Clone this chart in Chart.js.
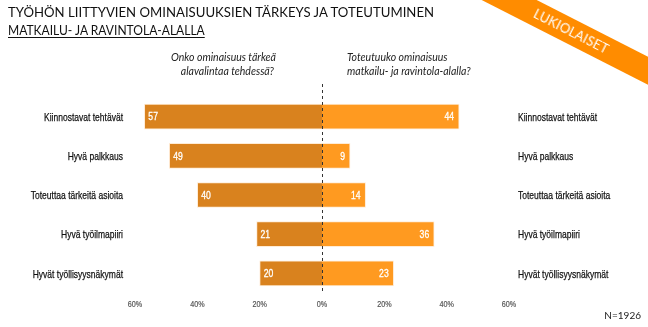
<!DOCTYPE html>
<html>
<head>
<meta charset="utf-8">
<script src="https://cdn.jsdelivr.net/npm/chart.js@4"></script>
<style>
  html,body{margin:0;padding:0;background:#fff;}
  body{width:648px;height:327px;position:relative;overflow:hidden;font-family:Lato,"Open Sans",sans-serif;}
  #c{position:absolute;left:0;top:0;}
  .t{position:absolute;white-space:nowrap;color:#111;}
  #title1{left:8px;top:3px;font-size:14px;transform:scaleX(0.94);transform-origin:0 0;}
  #title2{left:8px;top:21px;font-size:14px;transform:scaleX(0.86);transform-origin:0 0;text-decoration:underline;text-underline-offset:2px;}
  .q{font-style:italic;font-size:10.5px;color:#222;line-height:14px;}
  #qL{right:372px;top:50px;text-align:right;}
  #qR{left:347px;top:50px;text-align:left;}
  #n{right:7px;top:309px;font-size:10px;color:#222;}
  #ribbon{position:absolute;left:421px;top:19px;width:300px;height:25px;background:#FF8C00;transform:rotate(27deg);transform-origin:50% 50%;color:#fff;font-size:13px;line-height:25px;text-align:center;letter-spacing:0.2px;}
</style>
</head>
<body>
<canvas id="c" width="648" height="327"></canvas>
<div class="t" id="title1">TYÖHÖN LIITTYVIEN OMINAISUUKSIEN TÄRKEYS JA TOTEUTUMINEN</div>
<div class="t" id="title2">MATKAILU- JA RAVINTOLA-ALALLA</div>
<div class="t q" id="qL">Onko ominaisuus tärkeä<br><span style="padding-right:2px">alavalintaa tehdessä?</span></div>
<div class="t q" id="qR">Toteutuuko ominaisuus<br>matkailu- ja ravintola-alalla?</div>
<div class="t" id="n">N=1926</div>
<div id="ribbon">LUKIOLAISET</div>
<script>
const categories = ["Kiinnostavat tehtävät","Hyvä palkkaus","Toteuttaa tärkeitä asioita","Hyvä työilmapiiri","Hyvät työllisyysnäkymät"];
const importance = [57, 49, 40, 21, 20];   // Onko ominaisuus tärkeä alavalintaa tehdessä?
const realization = [44, 9, 14, 36, 23];   // Toteutuuko ominaisuus matkailu- ja ravintola-alalla?
const tickValues = [-60, -40, -20, 0, 20, 40, 60];

const baseFont = '"Liberation Sans",Arial,sans-serif';

function condensedText(ctx, text, x, y, align, sx, strokeW) {
  ctx.save();
  ctx.translate(x, y);
  ctx.scale(sx, 1);
  ctx.textAlign = align;
  ctx.fillText(text, 0, 0);
  if (strokeW) {
    ctx.strokeStyle = ctx.fillStyle;
    ctx.lineWidth = strokeW;
    ctx.strokeText(text, 0, 0);
  }
  ctx.restore();
}

const zeroLine = {
  id: 'zeroLine',
  afterDatasetsDraw(chart) {
    const ctx = chart.ctx;
    const x = Math.round(chart.scales.x.getPixelForValue(0)) + 0.5;
    ctx.save();
    ctx.strokeStyle = '#333';
    ctx.lineWidth = 1;
    ctx.setLineDash([3, 3]);
    ctx.beginPath();
    ctx.moveTo(x, 84);
    ctx.lineTo(x, 292);
    ctx.stroke();
    ctx.restore();
  }
};

const textLabels = {
  id: 'textLabels',
  afterDatasetsDraw(chart) {
    const ctx = chart.ctx;
    const sx = chart.scales.x, sy = chart.scales.y, sy2 = chart.scales.y2;
    ctx.save();
    ctx.textBaseline = 'middle';
    // value labels inside bars
    ctx.fillStyle = '#fff';
    ctx.font = '10.5px ' + baseFont;
    chart.data.datasets.forEach((ds, di) => {
      const meta = chart.getDatasetMeta(di);
      meta.data.forEach((bar, i) => {
        const v = String(Math.abs(ds.data[i]));
        if (ds.data[i] < 0) condensedText(ctx, v, bar.x + 4, bar.y + 1, 'left', 0.82, 0.3);
        else condensedText(ctx, v, bar.x - 5, bar.y + 1, 'right', 0.82, 0.3);
      });
    });
    // category labels on both sides
    ctx.fillStyle = '#111';
    ctx.font = '11.5px ' + baseFont;
    chart.data.labels.forEach((lab, i) => {
      condensedText(ctx, lab, sy.right - 12, sy.getPixelForValue(i) + 1, 'right', 0.74, 0.25);
      condensedText(ctx, lab, sy2.left + 9, sy2.getPixelForValue(i) + 1, 'left', 0.74, 0.25);
    });
    // x tick labels
    ctx.fillStyle = '#555';
    ctx.font = '9px ' + baseFont;
    sx.ticks.forEach(t => {
      condensedText(ctx, Math.abs(t.value) + '%', sx.getPixelForValue(t.value), sx.top + 12, 'center', 0.8, 0.2);
    });
    ctx.restore();
  }
};

new Chart(document.getElementById('c'), {
  type: 'bar',
  data: {
    labels: categories,
    datasets: [
      {
        label: 'Onko ominaisuus tärkeä alavalintaa tehdessä?',
        data: importance.map(v => -v),
        backgroundColor: '#D9821E',
        borderColor: 'rgba(255,230,200,0.75)',
        borderWidth: 1,
        barThickness: 25
      },
      {
        label: 'Toteutuuko ominaisuus matkailu- ja ravintola-alalla?',
        data: realization,
        backgroundColor: '#FF9A20',
        borderColor: 'rgba(255,230,200,0.75)',
        borderWidth: 1,
        barThickness: 25
      }
    ]
  },
  options: {
    indexAxis: 'y',
    responsive: false,
    animation: false,
    devicePixelRatio: 1,
    layout: { padding: { top: 97, left: 0, right: 0, bottom: 0 } },
    plugins: { legend: { display: false }, tooltip: { enabled: false } },
    scales: {
      x: {
        stacked: true,
        min: -60, max: 60,
        afterBuildTicks(scale) { scale.ticks = tickValues.map(v => ({ value: v })); },
        afterFit(scale) { scale.height = 34; },
        grid: { display: false, drawTicks: false },
        border: { display: false },
        ticks: { display: false }
      },
      y: {
        stacked: true,
        position: 'left',
        afterFit(scale) { scale.width = 135; },
        grid: { display: false, drawTicks: false },
        border: { display: false },
        ticks: { display: false }
      },
      y2: {
        type: 'category',
        position: 'right',
        offset: true,
        afterFit(scale) { scale.width = 139; },
        grid: { display: false, drawTicks: false },
        border: { display: false },
        ticks: { display: false }
      }
    }
  },
  plugins: [zeroLine, textLabels]
});
</script>
</body>
</html>
